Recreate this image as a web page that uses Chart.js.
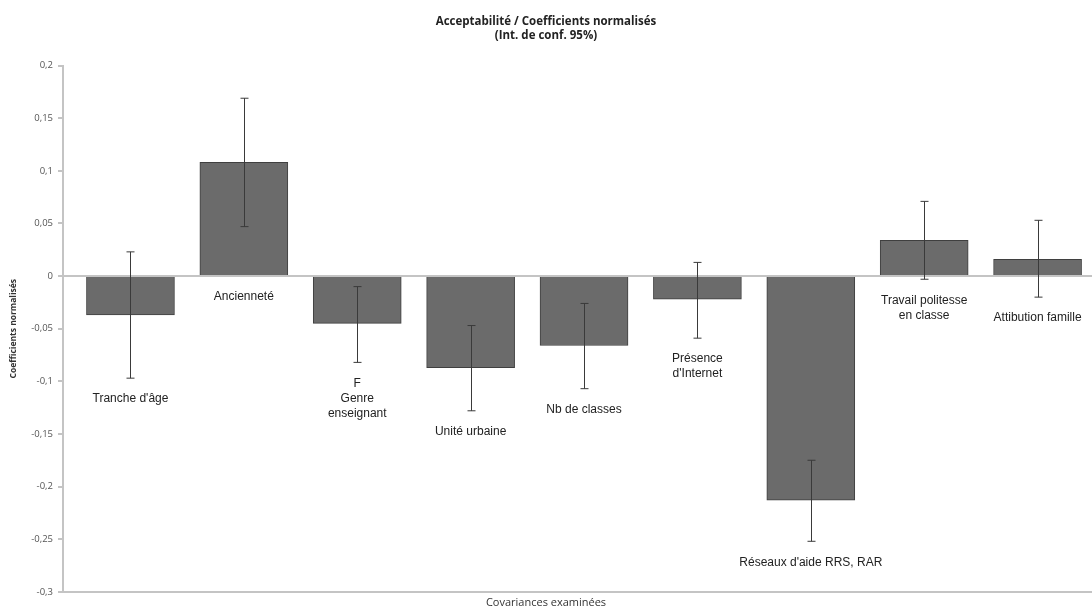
<!DOCTYPE html>
<html>
<head>
<meta charset="utf-8">
<script src="https://cdn.jsdelivr.net/npm/chart.js@4/dist/chart.umd.min.js"></script>
<style>
  html, body { margin: 0; padding: 0; background: #fff; }
  #wrap { width: 1092px; height: 614px; }
</style>
</head>
<body>
<div id="wrap"><canvas id="myChart"></canvas></div>
<script>
const categories = [
  ['Tranche d\'âge'],
  ['Ancienneté'],
  ['F', 'Genre', 'enseignant'],
  ['Unité urbaine'],
  ['Nb de classes'],
  ['Présence', 'd\'Internet'],
  ['Réseaux d\'aide RRS, RAR'],
  ['Travail politesse', 'en classe'],
  ['Attibution famille']
];
const coefs   = [-0.037, 0.108, -0.045, -0.087, -0.066, -0.022, -0.213, 0.034, 0.016];
const ciHigh  = [0.023, 0.169, -0.010, -0.047, -0.026, 0.013, -0.175, 0.071, 0.053];
const ciLow   = [-0.097, 0.047, -0.082, -0.128, -0.107, -0.059, -0.252, -0.003, -0.020];
const yTicks  = [0.2, 0.15, 0.1, 0.05, 0, -0.05, -0.1, -0.15, -0.2, -0.25, -0.3];

const fmt = v => String(Math.round(v * 100) / 100).replace('.', ',');

// barres d'erreur (intervalle de confiance)
const errorBars = {
  id: 'errorBars',
  afterDatasetsDraw(chart) {
    const x = chart.scales.x, y = chart.scales.y, ctx = chart.ctx;
    ctx.save();
    ctx.strokeStyle = '#3a3a3a';
    ctx.lineWidth = 1;
    coefs.forEach((v, i) => {
      const px = Math.round(x.getPixelForValue(i)) + 0.5;
      const hi = y.getPixelForValue(ciHigh[i]);
      const lo = y.getPixelForValue(ciLow[i]);
      ctx.beginPath();
      ctx.moveTo(px, hi); ctx.lineTo(px, lo);
      ctx.moveTo(px - 4, hi); ctx.lineTo(px + 4, hi);
      ctx.moveTo(px - 4, lo); ctx.lineTo(px + 4, lo);
      ctx.stroke();
    });
    ctx.restore();
  }
};

// libellés des catégories placés sous la barre / l'intervalle
const catLabels = {
  id: 'catLabels',
  afterDatasetsDraw(chart) {
    const x = chart.scales.x, y = chart.scales.y, ctx = chart.ctx;
    ctx.save();
    ctx.font = '12px "Liberation Sans", Arial, sans-serif';
    ctx.fillStyle = '#222';
    ctx.textAlign = 'center';
    ctx.textBaseline = 'middle';
    categories.forEach((lines, i) => {
      const low = Math.min(0, coefs[i], ciLow[i]);
      const py = y.getPixelForValue(low) + 21;
      lines.forEach((t, k) => ctx.fillText(t, x.getPixelForValue(i), py + k * 15));
    });
    ctx.restore();
  }
};

const ctx = document.getElementById('myChart').getContext('2d');
const myChart = new Chart(ctx, {
  type: 'bar',
  data: {
    datasets: [{
      label: 'Coefficients',
      data: coefs.map((v, i) => ({ x: i, y: v })),
      backgroundColor: '#6b6b6b',
      borderColor: '#3f3f3f',
      borderWidth: 1,
      barThickness: 88
    }]
  },
  options: {
    responsive: true,
    maintainAspectRatio: false,
    animation: false,
    layout: { padding: 0 },
    plugins: {
      legend: { display: false },
      tooltip: { enabled: false },
      title: {
        display: true,
        text: ['Acceptabilité / Coefficients normalisés', '(Int. de conf. 95%)'],
        color: '#222',
        font: { family: '"Open Sans", sans-serif', size: 11.5, weight: 'bold', lineHeight: 1.2 },
        padding: { top: 15, bottom: 23 }
      },
      subtitle: {
        display: true,
        position: 'bottom',
        text: 'Covariances examinées',
        color: '#333',
        font: { family: '"Open Sans", sans-serif', size: 11, lineHeight: 1.2 },
        padding: { top: 4, bottom: 5 }
      }
    },
    scales: {
      x: {
        type: 'linear',
        display: false,
        offset: false,
        min: -0.595,
        max: 8.48
      },
      y: {
        min: -0.3,
        max: 0.2,
        afterBuildTicks: s => { s.ticks = yTicks.map(v => ({ value: v })); },
        afterFit: s => { s.width = 63; },
        ticks: {
          callback: v => fmt(v),
          color: '#555',
          font: { family: '"Open Sans", sans-serif', size: 9.5 },
          padding: 5
        },
        grid: {
          color: c => (c.tick && (c.tick.value === 0 || c.tick.value === -0.3)) ? '#c4c4c4' : 'rgba(0,0,0,0)',
          lineWidth: 2,
          drawTicks: true,
          tickLength: 5,
          tickColor: '#c4c4c4'
        },
        border: { display: true, color: '#c4c4c4', width: 2 },
        title: {
          display: true,
          text: 'Coefficients normalisés',
          color: '#333',
          font: { family: '"Open Sans", sans-serif', size: 8.5, weight: 'bold' },
          padding: { top: 8, bottom: 0 }
        }
      }
    }
  },
  plugins: [errorBars, catLabels]
});
</script>
</body>
</html>
